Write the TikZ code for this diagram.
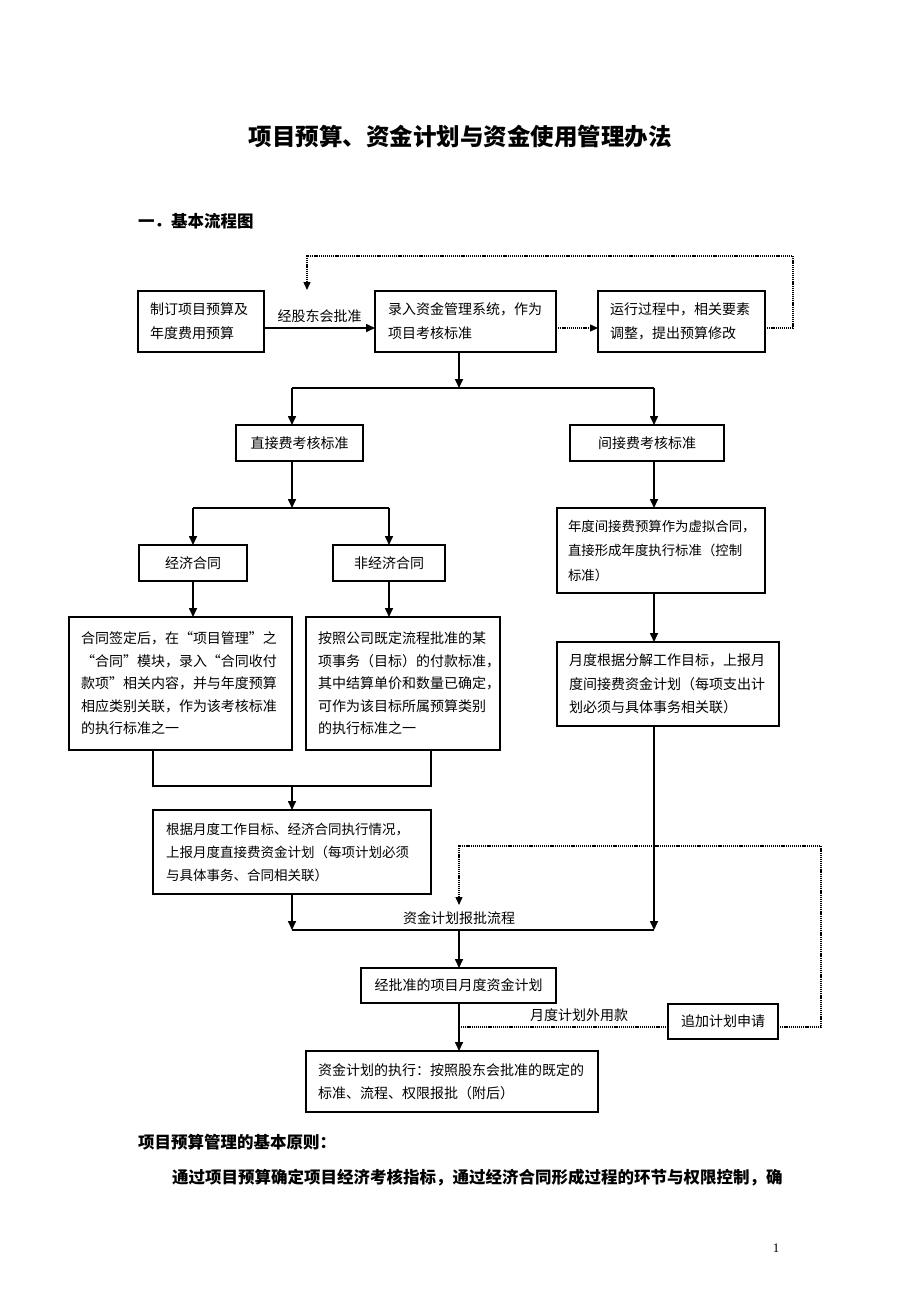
\documentclass[tikz,border=0pt]{standalone}
\usepackage{fontspec}
\setmainfont{Noto Sans CJK SC}
\newfontfamily\latfont{Liberation Serif}
\usetikzlibrary{arrows.meta,calc}
\tikzset{
  boxbase/.style={draw, line width=1.1pt, anchor=north west, outer sep=0pt, inner ysep=0pt, align=left},
  cbox/.style={draw, line width=1.1pt, anchor=north west, outer sep=0pt, inner sep=0pt, align=center, font=\fontsize{14}{20}\selectfont},
  conn/.style={line width=1.6pt, -{Triangle[length=9pt,width=8pt]}},
  plainline/.style={line width=1.6pt},
  dotline/.style={line width=1.3pt, dash pattern=on 1.2pt off 0.9pt},
  dotarr/.style={dotline, -{Triangle[length=8pt,width=7pt]}},
  lab/.style={font=\fontsize{14}{16}\selectfont, inner sep=0pt},
  head/.style={font=\bfseries\fontsize{16.5}{18}\selectfont, anchor=west, inner sep=0pt}
}
\begin{document}
\begin{tikzpicture}[x=1pt,y=-1pt]
\useasboundingbox (0,0) rectangle (920,1302);
\fill[white] (0,0) rectangle (920,1302);

% title and headings
\node[font=\bfseries\fontsize{23.5}{26}\selectfont, inner sep=0pt] (title) at (460,137) {项目预算、资金计划与资金使用管理办法};
\node[head] (h1) at (138,221) {一．基本流程图};
\node[head] (h2) at (138,1142) {项目预算管理的基本原则：};
\node[head] (h3) at (172,1178) {通过项目预算确定项目经济考核指标，通过经济合同形成过程的环节与权限控制，确};
\node[font=\latfont\fontsize{13}{15}\selectfont, inner sep=0pt] (pg) at (776,1248) {1};

% boxes
\node[boxbase, inner xsep=12pt, text width=102pt, minimum height=61pt, font=\fontsize{14}{24}\selectfont] (A) at (138,291) {制订项目预算及\\年度费用预算};
\node[boxbase, inner xsep=13pt, text width=155pt, minimum height=61pt, font=\fontsize{14}{24}\selectfont] (B) at (375,291) {录入资金管理系统，作为\\项目考核标准};
\node[boxbase, inner xsep=12pt, text width=143pt, minimum height=61pt, font=\fontsize{14}{24}\selectfont] (C) at (598,291) {运行过程中，相关要素\\调整，提出预算修改};

\node[cbox, minimum width=127pt, minimum height=36pt] (D) at (236,425) {直接费考核标准};
\node[cbox, minimum width=154pt, minimum height=36pt] (E) at (570,425) {间接费考核标准};
\node[cbox, minimum width=108pt, minimum height=36pt] (F) at (139,545) {经济合同};
\node[cbox, minimum width=112pt, minimum height=36pt] (G) at (333,545) {非经济合同};

\node[boxbase, inner xsep=11pt, text width=186pt, minimum height=85pt, font=\fontsize{13.4}{24.5}\selectfont] (H) at (557,508) {年度间接费预算作为虚拟合同，\\直接形成年度执行标准（控制\\标准）};
\node[boxbase, inner xsep=12pt, text width=198pt, minimum height=84pt, font=\fontsize{14}{23.5}\selectfont] (I) at (557,642) {月度根据分解工作目标，上报月\\度间接费资金计划（每项支出计\\划必须与具体事务相关联）};

\node[boxbase, inner xsep=12pt, text width=199pt, minimum height=133pt, font=\fontsize{14}{22.5}\selectfont] (J) at (69,617) {合同签定后，在“项目管理”之\\ “合同”模块，录入“合同收付\\款项”相关内容，并与年度预算\\相应类别关联，作为该考核标准\\的执行标准之一};
\node[boxbase, inner xsep=12pt, text width=170pt, minimum height=133pt, font=\fontsize{14}{22.5}\selectfont] (K) at (306,617) {按照公司既定流程批准的某\\项事务（目标）的付款标准，\\其中结算单价和数量已确定，\\可作为该目标所属预算类别\\的执行标准之一};

\node[boxbase, inner xsep=13pt, text width=252pt, minimum height=84pt, font=\fontsize{13.5}{23}\selectfont] (L) at (153,810) {根据月度工作目标、经济合同执行情况，\\上报月度直接费资金计划（每项计划必须\\与具体事务、合同相关联）};

\node[cbox, minimum width=195pt, minimum height=35pt] (M) at (361,968) {经批准的项目月度资金计划};
\node[boxbase, inner xsep=12pt, text width=268pt, minimum height=61pt, font=\fontsize{14}{23}\selectfont] (N) at (306,1051) {资金计划的执行：按照股东会批准的既定的\\标准、流程、权限报批（附后）};
\node[cbox, minimum width=110pt, minimum height=35pt] (O) at (668,1004) {追加计划申请};

% helper coordinates
\coordinate (yAB) at (0,328);
\coordinate (loopR) at (793,256);
\coordinate (loopL) at (307,256);
\coordinate (loopEnd) at (307,290);
\coordinate (br1) at (459,388);
\coordinate (bL) at (292,388);
\coordinate (bR) at (654,388);
\coordinate (b2) at (292,508);
\coordinate (brk) at (292,786);
\coordinate (jL) at (292,930);
\coordinate (jR) at (654,930);
\coordinate (jM) at (459,930);
\coordinate (yO) at (0,1027);
\coordinate (dR) at (821,846);
\coordinate (dL) at (459,846);
\coordinate (dEnd) at (459,905);

% top row
\draw[conn] (A.east |- yAB) -- (B.west |- yAB);
\node[lab] (lab1) at ($(A.east |- yAB)!0.5!(B.west |- yAB) + (0,-12)$) {经股东会批准};
\draw[dotarr] (B.east |- yAB) -- (C.west |- yAB);
\draw[dotarr] (C.east |- yAB) -- (loopR |- yAB) -- (loopR) -- (loopL) -- (loopEnd);

% first split
\draw[conn] (br1 |- B.south) -- (br1);
\draw[plainline] (bL) -- (bR);
\draw[conn] (bL) -- (bL |- D.north);
\draw[conn] (bR) -- (bR |- E.north);

% direct branch
\draw[conn] (b2 |- D.south) -- (b2);
\draw[plainline] (F.north |- b2) -- (G.north |- b2);
\draw[conn] (F.north |- b2) -- (F.north);
\draw[conn] (G.north |- b2) -- (G.north);
\draw[conn] (F.south) -- (F.south |- J.north);
\draw[conn] (G.south) -- (G.south |- K.north);
\draw[line width=1.1pt] (L.north west |- J.south) -- (L.north west |- brk) -- (L.north east |- brk) -- (L.north east |- K.south);
\draw[conn] (brk) -- (brk |- L.north);
\draw[conn] (brk |- L.south) -- (jL);

% indirect branch
\draw[conn] (bR |- E.south) -- (bR |- H.north);
\draw[conn] (bR |- H.south) -- (bR |- I.north);
\draw[conn] (bR |- I.south) -- (jR);

% merge
\draw[plainline] (jL) -- (jR);
\node[lab] (lab2) at (459,918) {资金计划报批流程};
\draw[conn] (jM) -- (jM |- M.north);
\draw[conn] (jM |- M.south) -- (jM |- N.north);

% additional plan
\draw[dotline] (O.west |- yO) -- (jM |- yO);
\node[lab] (lab3) at (579,1015) {月度计划外用款};
\draw[dotarr] (O.east |- yO) -- (dR |- yO) -- (dR) -- (dL) -- (dEnd);
\end{tikzpicture}
\end{document}
